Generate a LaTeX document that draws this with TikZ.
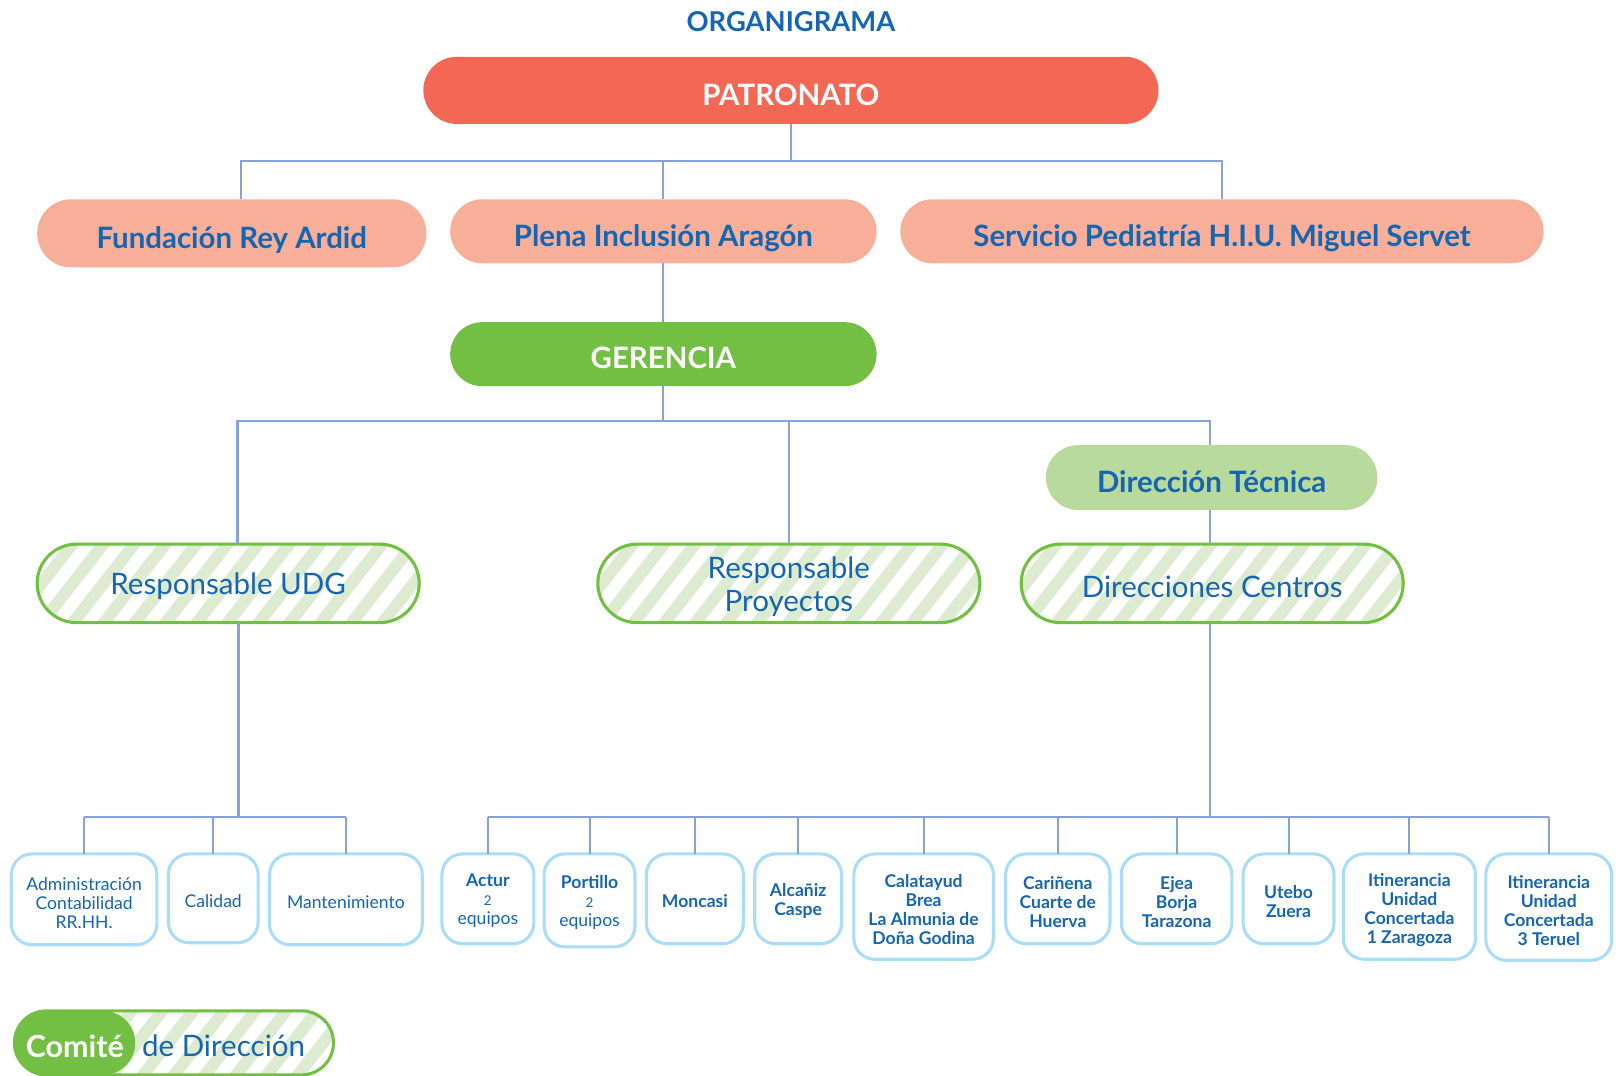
\documentclass[tikz,border=0pt]{standalone}
\usepackage{fontspec}
\setmainfont{Lato}
\usetikzlibrary{calc}
\definecolor{tblue}{HTML}{1565B0}
\definecolor{coral}{HTML}{F26855}
\definecolor{salmon}{HTML}{F7AF99}
\definecolor{grn}{HTML}{72BF44}
\definecolor{lgrn}{HTML}{B8DA9D}
\definecolor{strp}{HTML}{DDEBD0}
\definecolor{lnk}{HTML}{86A2D8}
\definecolor{sbord}{HTML}{AADDF7}
\newcommand\myfs[2]{\fontsize{#1}{#2}\selectfont}
\begin{document}
\begin{tikzpicture}[x=1pt,y=-1pt,
  base/.style={inner sep=0pt, outer sep=0pt, align=center},
  bigtxt/.style={font=\bfseries\myfs{28.5}{31}, text height=28.5pt, text depth=0pt},
  midtxt/.style={font=\myfs{28.6}{32}, text=tblue},
  leaftxt/.style={base, font=\myfs{17}{18.4}, text=tblue},
  leafbold/.style={leaftxt, font=\bfseries\myfs{17}{18.4}},
  connline/.style={draw=lnk, line width=2pt},
  stripebox/.style={base, draw=grn, line width=3pt, fill=white,
    minimum width=370pt, minimum height=76pt, rounded corners=38pt,
    path picture={\foreach \k in {-4,...,14}{\draw[strp, line width=11.5pt]
      ($(path picture bounding box.south west)+(\k*30,6)$) -- ++(75,-96);}}},
  leafbox/.style={base, draw=sbord, line width=3pt, fill=white, rounded corners=20pt}
]
\useasboundingbox (0,0) rectangle (1568,1042);

% title
\node[base, font=\bfseries\myfs{26.5}{30}, text=tblue] (title) at (766,21) {ORGANIGRAMA};

% level 1
\node[base, bigtxt, text=white, fill=coral, minimum width=712pt, minimum height=65pt, rounded corners=32.5pt] (pat) at (766,87.5) {PATRONATO};

% level 2
\node[base, bigtxt, text=tblue, fill=salmon, minimum width=377pt, minimum height=66pt, rounded corners=33pt] (fra) at (224.5,226) {Fundación Rey Ardid};
\node[base, bigtxt, text=tblue, fill=salmon, minimum width=413pt, minimum height=62pt, rounded corners=31pt] (pia) at (642.5,224) {Plena Inclusión Aragón};
\node[base, bigtxt, text=tblue, fill=salmon, minimum width=623pt, minimum height=62pt, rounded corners=31pt] (spd) at (1183.5,224) {Servicio Pediatría H.I.U. Miguel Servet};

% gerencia
\node[base, bigtxt, text=white, fill=grn, minimum width=413pt, minimum height=62pt, rounded corners=31pt] (ger) at (642.5,343) {GERENCIA};

% direccion tecnica
\node[base, bigtxt, text=tblue, fill=lgrn, minimum width=321pt, minimum height=63pt, rounded corners=31.5pt] (dt) at (1173.5,462.5) {Dirección Técnica};

% striped boxes
\node[stripebox] (udg) at (221,565) {};
\node[stripebox] (rp) at (764,565) {};
\node[stripebox] (dc) at (1174,565) {};
\node[base, midtxt] (udg-t) at ([yshift=-3pt]udg.center) {Responsable UDG};
\node[base, midtxt] (rp-t) at ([yshift=-3pt]rp.center) {Responsable\\Proyectos};
\node[base, midtxt] (dc-t) at ([yshift=-3pt]dc.center) {Direcciones Centros};

% leaves left
\node[leafbox, minimum width=141pt, minimum height=88pt] (adm) at (81.5,871) {};
\node[leafbox, minimum width=87pt, minimum height=86pt] (cal) at (206.5,870) {};
\node[leafbox, minimum width=148pt, minimum height=88pt] (man) at (335,871) {};
% leaves right
\node[leafbox, minimum width=89pt, minimum height=87pt] (actur) at (472.5,870.5) {};
\node[leafbox, minimum width=88pt, minimum height=90pt] (port) at (571,872) {};
\node[leafbox, minimum width=94pt, minimum height=87pt] (monc) at (673,870.5) {};
\node[leafbox, minimum width=84pt, minimum height=87pt] (alca) at (773,870.5) {};
\node[leafbox, minimum width=135pt, minimum height=102pt] (cala) at (894.5,878) {};
\node[leafbox, minimum width=101pt, minimum height=87pt] (cari) at (1024.5,870.5) {};
\node[leafbox, minimum width=107pt, minimum height=87pt] (ejea) at (1139.5,870.5) {};
\node[leafbox, minimum width=88pt, minimum height=87pt] (uteb) at (1248,870.5) {};
\node[leafbox, minimum width=128pt, minimum height=102pt] (iti1) at (1365,878) {};
\node[leafbox, minimum width=122pt, minimum height=103pt] (iti3) at (1500,878.5) {};

% leaf texts
\node[leaftxt] (adm-t) at ([yshift=-4pt]adm.center) {Administración\\Contabilidad\\RR.HH.};
\node[leaftxt] (cal-t) at ([yshift=-3pt]cal.center) {Calidad};
\node[leaftxt] (man-t) at ([yshift=-3pt]man.center) {Mantenimiento};
\node[leaftxt] (actur-t) at ([yshift=-2pt]actur.center) {\textbf{Actur}\\{\myfs{13}{18.4}2}\\equipos};
\node[leaftxt] (port-t) at ([yshift=-2pt]port.center) {\textbf{Portillo}\\{\myfs{13}{18.4}2}\\equipos};
\node[leafbold] (monc-t) at ([yshift=-2pt]monc.center) {Moncasi};
\node[leafbold] (alca-t) at ([yshift=-2pt]alca.center) {Alcañiz\\Caspe};
\node[leafbold] (cala-t) at ([yshift=-3pt]cala.center) {Calatayud\\Brea\\La Almunia de\\Doña Godina};
\node[leafbold] (cari-t) at ([yshift=-3pt]cari.center) {Cariñena\\Cuarte de\\Huerva};
\node[leafbold] (ejea-t) at ([yshift=-3pt]ejea.center) {Ejea\\Borja\\Tarazona};
\node[leafbold] (uteb-t) at ([yshift=-3pt]uteb.center) {Utebo\\Zuera};
\node[leafbold] (iti1-t) at ([yshift=-3pt]iti1.center) {Itinerancia\\Unidad\\Concertada\\1 Zaragoza};
\node[leafbold] (iti3-t) at ([yshift=-3pt]iti3.center) {Itinerancia\\Unidad\\Concertada\\3 Teruel};

% legend
\node[stripebox, minimum width=309pt, minimum height=62pt, rounded corners=31pt] (leg) at (168.5,1010) {};
\node[base, font=\bfseries\myfs{29.5}{31}, text height=29pt, text depth=0pt, text=white, fill=grn, minimum width=117pt, minimum height=62pt, rounded corners=31pt] (com) at (72.5,1010) {Comité};
\node[base, midtxt] (legt) at (216.5,1013) {de Dirección};

% bus coordinates
\coordinate (b1) at (0,156);
\coordinate (b2) at (0,408);
\coordinate (b3) at (0,791);

% connectors
\draw[connline] (pat.south) -- (pat.south |- b1);
\draw[connline] ([xshift=8.5pt]fra.north) |- (spd.north |- b1) -- (spd.north);
\draw[connline] (pia.north) -- (pia.north |- b1);
\draw[connline] (pia.south) -- (ger.north);
\draw[connline] (ger.south) -- (ger.south |- b2);
\draw[connline] ([xshift=9pt]udg.north) |- ([xshift=-1.5pt]dt.north |- b2) -- ([xshift=-1.5pt]dt.north);
\draw[connline] (rp.north) -- (rp.north |- b2);
\draw[connline] ([xshift=-1.5pt]dt.south) -- ([xshift=-2pt]dc.north);

\draw[connline] ([xshift=10pt]udg.south) -- ([xshift=10pt]udg.south |- b3);
\draw[connline] (adm.north |- b3) -- (man.north |- b3);
\foreach \n in {adm,cal,man}{\draw[connline] (\n.north) -- (\n.north |- b3);}

\draw[connline] ([xshift=-2pt]dc.south) -- ([xshift=-2pt]dc.south |- b3);
\draw[connline] (actur.north |- b3) -- (iti3.north |- b3);
\foreach \n in {actur,port,monc,alca,cala,cari,ejea,uteb,iti1,iti3}{\draw[connline] (\n.north) -- (\n.north |- b3);}
\end{tikzpicture}
\end{document}
